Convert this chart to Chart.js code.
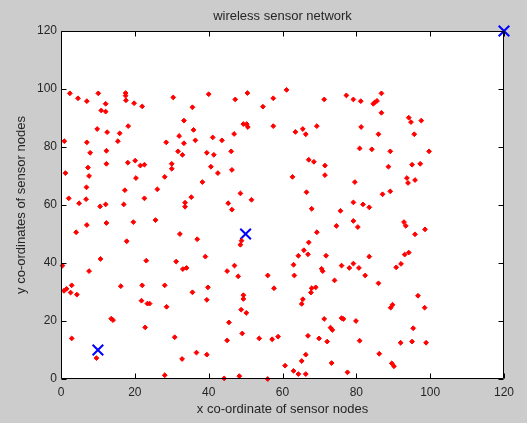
<!DOCTYPE html>
<html>
<head>
<meta charset="utf-8">
<script src="https://cdn.jsdelivr.net/npm/chart.js@4.4.1/dist/chart.umd.min.js"></script>
<style>
  html, body { margin: 0; padding: 0; background: #cccccc; }
  #wrap { width: 527px; height: 423px; }
</style>
</head>
<body>
<div id="wrap"><canvas id="c" width="527" height="423"></canvas></div>
<script>
// ---- data ----
const chartTitle = 'wireless sensor network';
const xAxisTitle = 'x co-ordinate of sensor nodes';
const yAxisTitle = 'y co-ordinates of sensor nodes';
const xTicks = [0, 20, 40, 60, 80, 100, 120];
const yTicks = [0, 20, 40, 60, 80, 100, 120];

const nodeX = [
  2.4,4.6,7.0,10.1,12.1,10.9,12.1,17.5,17.5,17.6,19.8,22.0,30.4,9.8,12.5,15.9,18.2,0.9,7.0,15.4,28.5,7.9,12.3,1.2,7.3,7.6,12.3,18.1,20.1,21.5,22.6,20.3,30.0,30.0,28.1,6.9,17.3,26.1,2.1,4.9,6.8,22.6,12.1,10.6,17.0,
  40.0,50.5,47.2,61.1,35.6,54.7,57.5,33.3,35.9,32.0,33.3,36.4,41.1,43.6,46.9,49.4,50.3,50.6,57.5,31.7,32.9,39.5,41.4,46.1,40.6,42.5,46.3,38.3,48.6,35.3,33.6,45.3,51.6,
  71.3,77.3,79.2,81.2,86.8,84.6,85.0,85.6,86.8,63.5,65.5,66.3,69.3,81.3,86.0,80.9,84.2,89.2,67.1,68.5,71.5,71.5,88.7,62.7,79.6,66.5,87.1,89.2,79.2,81.8,83.5,
  94.2,94.8,97.6,95.7,99.7,95.1,97.3,93.7,94.0,95.9,
  7.0,12.3,19.6,25.6,4.1,17.8,10.7,23.1,0.4,7.6,2.9,0.8,1.5,2.6,4.3,16.2,22.0,28.1,21.8,23.4,24.0,28.6,13.6,14.1,22.8,2.9,30.8,9.6,28.1,
  33.6,46.3,32.2,36.9,48.9,48.6,31.2,33.0,34.0,39.1,45.0,47.0,48.0,56.0,57.7,35.6,39.8,39.5,49.4,49.4,48.8,50.2,45.5,49.1,45.0,53.7,57.2,58.8,36.7,39.5,32.8,60.7,44.2,48.3,56.0,
  67.9,75.7,79.2,80.4,74.6,69.3,67.1,65.8,64.3,66.9,71.8,83.5,63.0,63.2,70.6,70.9,76.0,78.1,79.2,80.7,82.4,90.8,74.1,86.0,67.9,69.0,67.7,65.5,65.2,89.3,89.8,71.3,76.0,76.5,79.9,73.0,73.5,66.9,69.9,72.1,80.9,66.3,65.2,86.2,73.3,89.6,90.2,63.0,64.3,66.3,77.6,
  92.9,93.4,95.9,98.6,93.1,94.2,92.1,96.7,98.5,95.4,92.0,95.1,98.9
];
const nodeY = [
  98.5,96.8,95.8,98.5,94.9,92.6,92.2,98.6,97.7,96.1,95.1,94.0,97.1,86.2,85.1,84.7,87.2,82.0,81.6,82.0,81.6,78.0,78.7,71.0,72.9,70.0,74.2,74.6,75.3,73.6,73.9,69.3,74.2,72.5,69.7,66.1,65.1,65.4,62.3,60.6,62.0,62.3,60.2,59.5,60.2,
  98.2,98.6,96.4,99.7,93.7,93.9,96.8,89.1,85.9,83.8,81.3,82.3,83.3,82.3,84.5,87.9,87.9,86.9,87.2,78.5,77.3,78.0,77.3,78.5,73.2,71.0,72.1,67.9,64.0,62.7,60.8,60.6,61.8,
  96.4,97.8,96.4,95.8,98.5,94.9,95.4,95.9,91.8,85.2,86.2,84.4,87.2,86.9,84.4,79.5,79.2,78.5,75.6,74.9,73.6,70.3,73.2,69.7,67.9,64.4,63.7,64.7,60.9,60.2,59.2,
  90.1,88.6,89.1,84.4,78.5,73.9,74.2,69.3,67.6,68.6,
  53.1,53.8,54.1,54.8,50.6,47.5,41.4,40.8,39.1,37.2,32.3,30.4,31.1,29.8,29.1,32.0,32.3,32.3,27.0,26.0,26.0,24.9,20.8,20.3,17.8,14.0,14.4,7.2,1.3,
  59.4,58.4,50.0,48.2,47.7,46.3,40.5,37.9,38.3,42.2,37.2,39.1,35.4,35.7,31.3,29.9,31.6,27.3,28.9,27.6,23.9,22.8,19.5,15.7,13.3,14.0,13.7,14.6,9.1,8.4,6.9,4.6,0.2,1.0,0.0,
  58.7,58.0,54.5,52.4,52.8,50.6,47.1,44.4,42.5,43.0,42.5,42.2,39.4,35.7,38.0,37.2,39.1,38.3,39.8,38.3,35.7,38.5,34.0,33.0,31.3,31.6,29.8,27.5,25.9,24.6,25.6,20.7,21.0,20.7,20.0,17.7,16.9,14.9,14.0,12.9,13.2,8.4,6.2,8.7,5.5,5.4,4.4,2.8,1.7,1.7,2.3,
  54.1,52.8,49.9,51.6,42.9,43.6,39.7,28.7,24.6,17.5,12.5,12.9,12.5
];
const sinkX = [10, 50, 120];
const sinkY = [10, 50, 120];

// ---- build ----
const nodes = nodeX.map((x, i) => ({ x: x, y: nodeY[i] }));
const sinks = sinkX.map((x, i) => ({ x: x, y: sinkY[i] }));
const FONT = '"Liberation Sans", Arial, sans-serif';
const TXT = '#262626';

const framePlugin = {
  id: 'frame',
  beforeDraw(chart) {
    const { ctx, chartArea: a } = chart;
    ctx.save();
    ctx.fillStyle = '#cccccc';
    ctx.fillRect(0, 0, chart.width, chart.height);
    ctx.fillStyle = '#ffffff';
    ctx.fillRect(a.left, a.top, a.right - a.left, a.bottom - a.top);
    ctx.restore();
  },
  afterDatasetsDraw(chart) {
    const { ctx, chartArea: a, scales } = chart;
    ctx.save();
    ctx.strokeStyle = '#000000';
    ctx.lineWidth = 1;
    ctx.beginPath();
    const L = Math.round(a.left) + 0.5, R = Math.round(a.right) - 0.5;
    const T = Math.round(a.top) + 0.5, B = Math.round(a.bottom) - 0.5;
    ctx.rect(L, T, R - L, B - T);
    const len = 5;
    xTicks.forEach(v => {
      const px = Math.round(scales.x.getPixelForValue(v)) + 0.5;
      ctx.moveTo(px, B); ctx.lineTo(px, B - len);
      ctx.moveTo(px, T); ctx.lineTo(px, T + len);
    });
    yTicks.forEach(v => {
      const py = Math.round(scales.y.getPixelForValue(v)) + 0.5;
      ctx.moveTo(L, py); ctx.lineTo(L + len, py);
      ctx.moveTo(R, py); ctx.lineTo(R - len, py);
    });
    ctx.stroke();
    // title centered over plot area
    ctx.fillStyle = TXT;
    ctx.font = '13px ' + FONT;
    ctx.textAlign = 'center';
    ctx.textBaseline = 'middle';
    ctx.fillText(chartTitle, (a.left + a.right) / 2, 16);
    ctx.restore();
  }
};

new Chart(document.getElementById('c'), {
  type: 'scatter',
  data: {
    datasets: [
      {
        label: 'sensor nodes',
        data: nodes,
        pointStyle: 'rectRot',
        pointRadius: 2.4,
        pointHoverRadius: 2.4,
        backgroundColor: '#ff0000',
        borderColor: '#ff0000',
        borderWidth: 1
      },
      {
        label: 'sink',
        data: sinks,
        pointStyle: 'crossRot',
        pointRadius: 7.5,
        pointHoverRadius: 7.5,
        borderColor: '#0000ff',
        backgroundColor: '#0000ff',
        borderWidth: 2
      }
    ]
  },
  options: {
    responsive: false,
    animation: false,
    events: [],
    clip: false,
    layout: { padding: { top: 31, right: 23, left: 0, bottom: 0 } },
    plugins: {
      legend: { display: false },
      title: { display: false },
      tooltip: { enabled: false }
    },
    scales: {
      x: {
        type: 'linear',
        min: 0, max: 120,
        afterBuildTicks: s => { s.ticks = xTicks.map(v => ({ value: v })); },
        afterFit: s => { s.height = 44; },
        grid: { display: false, drawTicks: false },
        border: { display: false },
        ticks: { color: TXT, font: { family: FONT, size: 12 }, padding: 6, maxRotation: 0 },
        title: { display: true, text: xAxisTitle, color: TXT, font: { family: FONT, size: 13 }, padding: { top: 0, bottom: 6 } }
      },
      y: {
        type: 'linear',
        min: 0, max: 120,
        afterBuildTicks: s => { s.ticks = yTicks.map(v => ({ value: v })); },
        afterFit: s => { s.width = 61; },
        grid: { display: false, drawTicks: false },
        border: { display: false },
        ticks: { color: TXT, font: { family: FONT, size: 12 }, padding: 4 },
        title: { display: true, text: yAxisTitle, color: TXT, font: { family: FONT, size: 13 }, padding: { top: 14, bottom: 0 } }
      }
    }
  },
  plugins: [framePlugin]
});
</script>
</body>
</html>
